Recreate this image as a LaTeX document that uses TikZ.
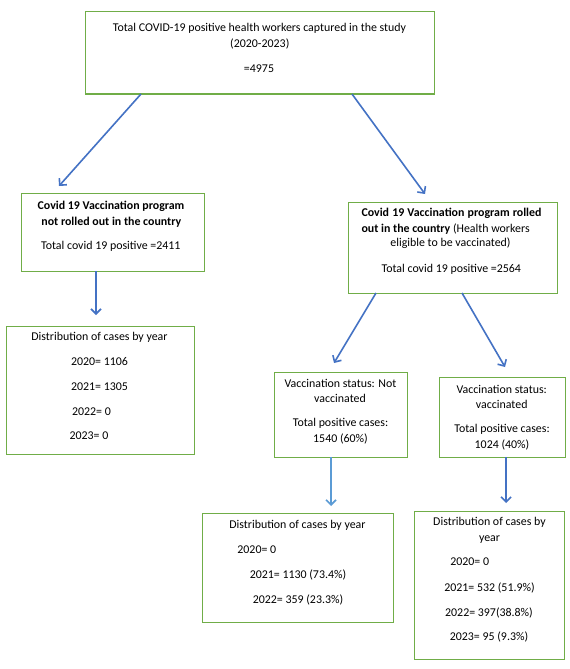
\documentclass[tikz,border=0pt]{standalone}
\usepackage{fontspec}
\setmainfont{Carlito}
\usetikzlibrary{arrows.meta}
\definecolor{boxgreen}{HTML}{70AD47}
\definecolor{arrowblue}{HTML}{4472C4}
\definecolor{arrowlight}{HTML}{5B9BD5}
\tikzset{
  box/.style={draw=boxgreen, line width=1bp, inner sep=0pt, outer sep=0pt, fill=white},
  txt/.style={anchor=base, inner sep=0pt, font=\fontsize{11.9bp}{14bp}\selectfont},
  txtw/.style={anchor=base west, inner sep=0pt, font=\fontsize{11.9bp}{14bp}\selectfont},
  arr/.style={draw=arrowblue, line width=1.6bp, -{Straight Barb[length=5bp,width=10bp]}},
  arrlight/.style={arr, draw=arrowlight}
}
\begin{document}
\begin{tikzpicture}[x=1bp,y=-1bp]
\useasboundingbox[fill=white] (0,0) rectangle (570,669);
% boxes
\node[box, minimum width=348bp, minimum height=82bp] (top) at (260,53) {};
\node[box, minimum width=182bp, minimum height=78bp] (notroll) at (113,232) {};
\node[box, minimum width=187bp, minimum height=128bp] (distA) at (100.5,390) {};
\node[box, minimum width=209bp, minimum height=91bp] (roll) at (452.5,247.5) {};
\node[box, minimum width=133bp, minimum height=85bp] (novac) at (340.5,414.5) {};
\node[box, minimum width=126bp, minimum height=80bp] (vac) at (502,417) {};
\node[box, minimum width=191bp, minimum height=109bp] (distB) at (297.5,567.5) {};
\node[box, minimum width=150bp, minimum height=148bp] (distC) at (489,585) {};
% top texts
\node[txt] (t1) at (259.5,31.7) {Total COVID-19 positive health workers captured in the study};
\node[txt] (t2) at (259.8,47.7) {(2020-2023)};
\node[txt] (t3) at (259,72.3) {=4975};
% not rolled out
\node[txt] (n1) at (111,209) {\bfseries Covid 19 Vaccination program};
\node[txt] (n2) at (111.3,225) {\bfseries not rolled out in the country};
\node[txt] (n3) at (110.8,249) {Total covid 19 positive =2411};
% dist A
\node[txt] (a1) at (99.5,340.7) {Distribution of cases by year};
\node[txt] (a2) at (99.5,365.7) {2020= 1106};
\node[txt] (a3) at (99.5,390.3) {2021= 1305};
\node[txt] (a4) at (91.5,415) {2022= 0};
\node[txt] (a5) at (89,439.3) {2023= 0};
% rolled out
\node[txtw] (r1) at (361.3,216.7) {\hbox to 180bp{\bfseries Covid\hfill 19\hfill Vaccination\hfill program\hfill rolled}};
\node[txtw] (r2) at (361.3,232.3) {\textbf{out in the country} (Health workers};
\node[txt] (r3) at (450.5,246.7) {eligible to be vaccinated)};
\node[txt] (r4) at (451.3,272.3) {Total covid 19 positive =2564};
% not vaccinated
\node[txt] (v1) at (340.5,387.3) {Vaccination status: Not};
\node[txt] (v2) at (340,402.7) {vaccinated};
\node[txt] (v3) at (340.5,426.7) {Total positive cases:};
\node[txt] (v4) at (340.5,442.7) {1540 (60\%)};
% vaccinated
\node[txt] (w1) at (501.7,393.3) {Vaccination status:};
\node[txt] (w2) at (501.7,408.3) {vaccinated};
\node[txt] (w3) at (502,432.7) {Total positive cases:};
\node[txt] (w4) at (502,448.3) {1024 (40\%)};
% dist B
\node[txt] (b1) at (297.5,528.3) {Distribution of cases by year};
\node[txt] (b2) at (256.8,553.3) {2020= 0};
\node[txt] (b3) at (298,578.5) {2021= 1130 (73.4\%)};
\node[txt] (b4) at (298,603) {2022= 359 (23.3\%)};
% dist C
\node[txt] (c1) at (489.5,525.7) {Distribution of cases by};
\node[txt] (c2) at (489.5,541) {year};
\node[txt] (c3) at (469.7,565) {2020= 0};
\node[txt] (c4) at (489.5,591) {2021= 532 (51.9\%)};
\node[txt] (c5) at (489,616) {2022= 397(38.8\%)};
\node[txt] (c6) at (489,640) {2023= 95 (9.3\%)};
% arrows
\draw[arr] ([xshift=-119bp]top.south) -- ([xshift=-54bp,yshift=7bp]notroll.north);
\draw[arr] ([xshift=92bp]top.south) -- ([xshift=-27.5bp,yshift=8bp]roll.north);
\draw[arr] ([xshift=-17bp]notroll.south) -- ([xshift=-4.5bp,yshift=11bp]distA.north);
\draw[arr] ([xshift=-76.5bp]roll.south) -- ([xshift=-6.5bp,yshift=9bp]novac.north);
\draw[arr] ([xshift=9.5bp]roll.south) -- ([xshift=3bp,yshift=10bp]vac.north);
\draw[arrlight] ([xshift=-9.5bp]novac.south) -- ([xshift=33.5bp,yshift=7bp]distB.north);
\draw[arr] ([xshift=4bp]vac.south) -- ([xshift=17bp,yshift=8bp]distC.north);
\end{tikzpicture}
\end{document}
